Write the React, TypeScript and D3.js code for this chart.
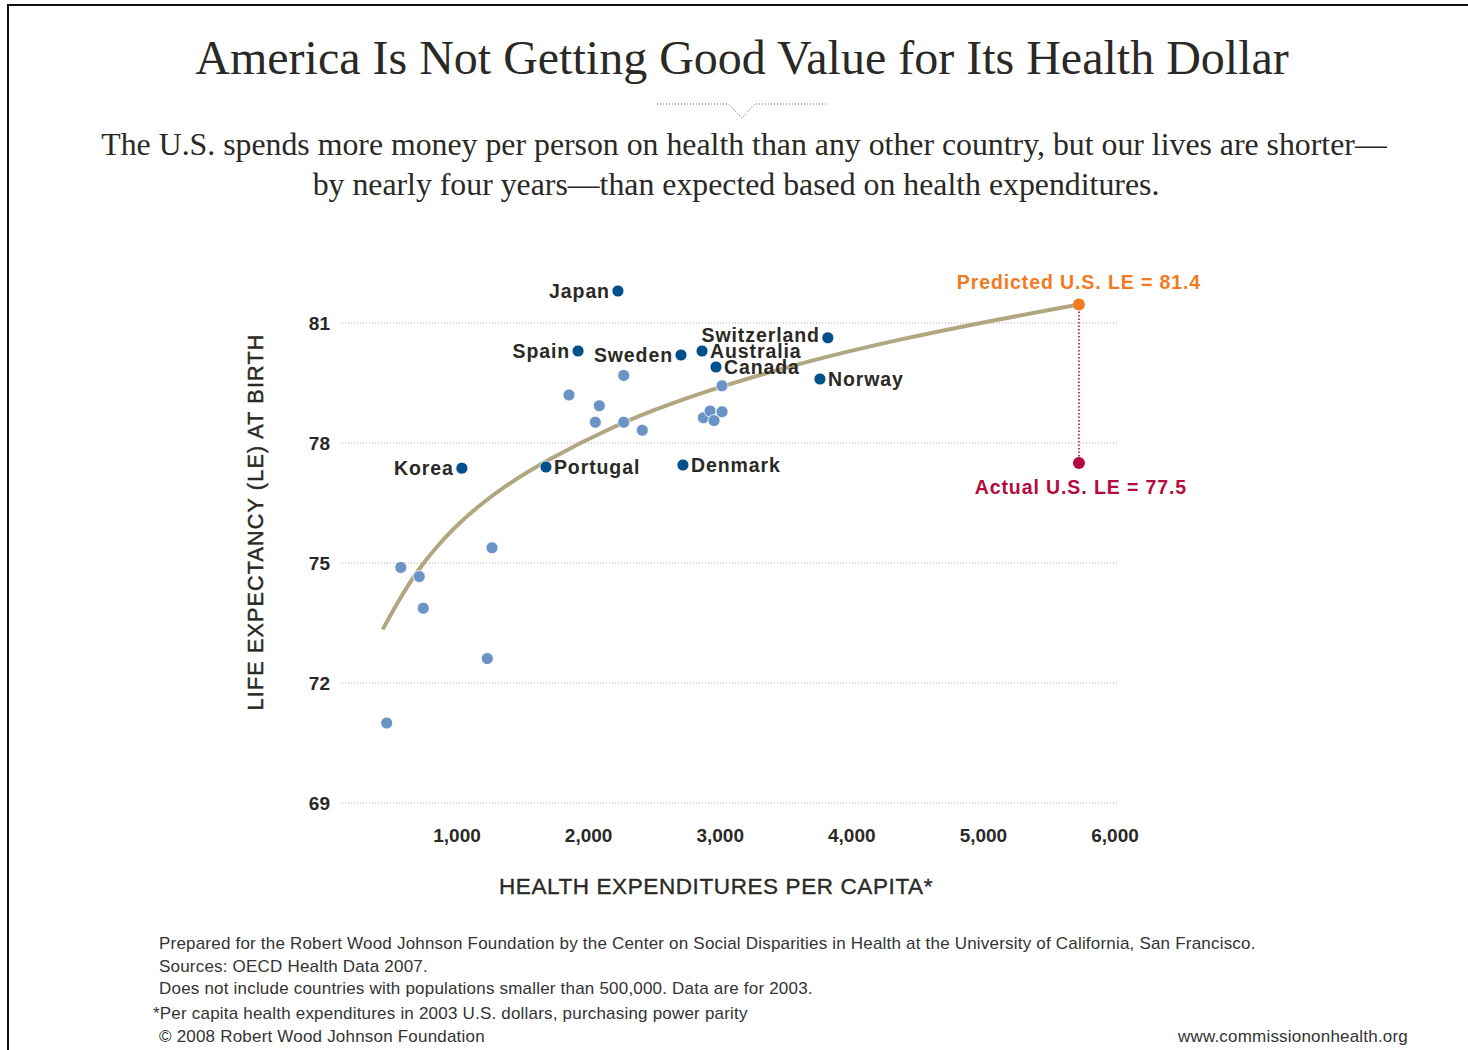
import React from "react";
import * as d3 from "d3";

const W = 1468;
const H = 1050;

// ---- data ----
const xTicks = [1000, 2000, 3000, 4000, 5000, 6000];
const yTicks = [81, 78, 75, 72, 69];

const namedCountries = ["Japan", "Spain", "Sweden", "Australia", "Switzerland", "Canada", "Norway", "Korea", "Portugal", "Denmark"];
const namedSpending = [2223, 1920, 2702, 2862, 3818, 2968, 3758, 1037, 1676, 2717];
const namedLE = [81.8, 80.3, 80.2, 80.3, 80.63, 79.9, 79.6, 77.37, 77.4, 77.45];
const namedLabelSide = ["left", "left", "left", "right", "left", "right", "right", "left", "right", "right"];

const otherSpending = [1851, 2081, 2051, 2267, 2267, 2408, 3014, 2872, 2923, 2953, 3014, 573, 713, 744, 1266, 1230, 466];
const otherLE = [79.2, 78.93, 78.52, 79.69, 78.52, 78.32, 79.43, 78.63, 78.8, 78.56, 78.78, 74.89, 74.66, 73.87, 75.38, 72.61, 71.0];

const trendSpending = [435, 580, 719, 850, 972, 1150, 1352, 1682, 2214, 2593, 3014, 3606, 4366, 5126, 5721];
const trendLE = [73.34, 74.2, 74.9, 75.42, 75.86, 76.39, 76.9, 77.58, 78.46, 78.95, 79.42, 80.0, 80.6, 81.1, 81.46];

const usSpending = 5726;
const usPredictedLE = 81.46;
const usActualLE = 77.5;

const titleText = "America Is Not Getting Good Value for Its Health Dollar";
const subtitleLines = [
  "The U.S. spends more money per person on health than any other country, but our lives are shorter\u2014",
  "by nearly four years\u2014than expected based on health expenditures.",
];
const footerLines = [
  "Prepared for the Robert Wood Johnson Foundation by the Center on Social Disparities in Health at the University of California, San Francisco.",
  "Sources: OECD Health Data 2007.",
  "Does not include countries with populations smaller than 500,000. Data are for 2003.",
  "*Per capita health expenditures in 2003 U.S. dollars, purchasing power parity",
  "\u00A9 2008 Robert Wood Johnson Foundation",
];
const footerUrl = "www.commissiononhealth.org";

// ---- style ----
const INK = "#2a2925";
const DARK_BLUE = "#00508c";
const LIGHT_BLUE = "#6a94c5";
const TREND = "#b0a67f";
const ORANGE = "#f27a21";
const CRIMSON = "#b50a3e";
const GRID = "#a8a8a8";
const SANS = "'Liberation Sans', Arial, Helvetica, sans-serif";
const SERIF = "'Liberation Serif', 'Times New Roman', serif";

export default function App() {
  const x = d3.scaleLinear().domain([1000, 6000]).range([457, 1115]);
  const y = d3.scaleLinear().domain([69, 81]).range([803, 323]);

  const trendLine = d3
    .line<number>()
    .x((_, i) => x(trendSpending[i]))
    .y((d) => y(d))
    .curve(d3.curveBasis);

  const gridX0 = 342;
  const gridX1 = 1118;
  const r = 6;
  const labelFont = { fontFamily: SANS, fontWeight: "bold" as const, fontSize: 19.5, letterSpacing: 0.9 };

  return (
    <svg
      width={W}
      height={H}
      viewBox={`0 0 ${W} ${H}`}
      style={{ position: "absolute", left: 0, top: 0, background: "#fff" }}
    >
      <rect x={0} y={0} width={W} height={H} fill="#fff" />
      {/* frame */}
      <line x1={7} y1={5} x2={W} y2={5} stroke="#111" strokeWidth={2} />
      <line x1={8} y1={4} x2={8} y2={H} stroke="#111" strokeWidth={2} />

      {/* title */}
      <text x={742} y={74} textAnchor="middle" fontFamily={SERIF} fontSize={48} fill={INK}>
        {titleText}
      </text>
      {/* decorative dotted rule with notch */}
      <polyline
        points="657,104 728,104 742,118 755,104 827,104"
        fill="none"
        stroke="#555"
        strokeWidth={1}
        strokeDasharray="1 2"
      />
      {subtitleLines.map((t, i) => (
        <text key={i} x={i === 0 ? 744 : 736} y={155 + i * 40} textAnchor="middle" fontFamily={SERIF} fontSize={31.8} fill={INK}>
          {t}
        </text>
      ))}

      {/* gridlines & y ticks */}
      {yTicks.map((t) => (
        <g key={t}>
          <line x1={gridX0} x2={gridX1} y1={y(t)} y2={y(t)} stroke={GRID} strokeWidth={1} strokeDasharray="1 2" />
          <text x={330} y={y(t) + 7} textAnchor="end" fontFamily={SANS} fontWeight="bold" fontSize={19} fill={INK}>
            {t}
          </text>
        </g>
      ))}
      {/* x ticks */}
      {xTicks.map((t) => (
        <text key={t} x={x(t)} y={842} textAnchor="middle" fontFamily={SANS} fontWeight="bold" fontSize={19} fill={INK}>
          {d3.format(",")(t)}
        </text>
      ))}

      {/* axis titles */}
      <text
        x={716}
        y={894}
        textAnchor="middle"
        fontFamily={SANS}
        fontSize={22.5}
        letterSpacing={0.6}
        fill={INK}
        stroke={INK}
        strokeWidth={0.35}
      >
        HEALTH EXPENDITURES PER CAPITA*
      </text>
      <text
        transform={`translate(263,${522}) rotate(-90)`}
        textAnchor="middle"
        fontFamily={SANS}
        fontSize={21.5}
        letterSpacing={1.2}
        fill={INK}
        stroke={INK}
        strokeWidth={0.45}
      >
        LIFE EXPECTANCY (LE) AT BIRTH
      </text>

      {/* trend */}
      <path d={trendLine(trendLE) || ""} fill="none" stroke={TREND} strokeWidth={4} strokeLinecap="butt" />

      {/* US connector */}
      <line
        x1={x(usSpending)}
        x2={x(usSpending)}
        y1={y(usPredictedLE)}
        y2={y(usActualLE)}
        stroke={CRIMSON}
        strokeWidth={1.6}
        strokeDasharray="1.5 2"
      />

      {/* other countries */}
      {otherLE.map((v, i) => (
        <circle key={i} cx={x(otherSpending[i])} cy={y(v)} r={r} fill={LIGHT_BLUE} stroke="#fff" strokeWidth={0.8} />
      ))}

      {/* named countries */}
      {namedLE.map((v, i) => {
        const cx = x(namedSpending[i]);
        const cy = y(v);
        const left = namedLabelSide[i] === "left";
        const dy = namedCountries[i] === "Switzerland" ? 4 : 7;
        return (
          <g key={namedCountries[i]}>
            <circle cx={cx} cy={cy} r={r} fill={DARK_BLUE} stroke="#fff" strokeWidth={0.8} />
            <text
              x={left ? cx - 8 : cx + 8}
              y={cy + dy}
              textAnchor={left ? "end" : "start"}
              {...labelFont}
              fill={INK}
            >
              {namedCountries[i]}
            </text>
          </g>
        );
      })}

      {/* US points */}
      <circle cx={x(usSpending)} cy={y(usPredictedLE)} r={r} fill={ORANGE} />
      <circle cx={x(usSpending)} cy={y(usActualLE)} r={r} fill={CRIMSON} />
      <text x={x(usSpending)} y={y(usPredictedLE) - 16} textAnchor="middle" {...labelFont} fill={ORANGE}>
        Predicted U.S. LE = 81.4
      </text>
      <text x={x(usSpending) + 2} y={y(usActualLE) + 31} textAnchor="middle" {...labelFont} fill={CRIMSON}>
        Actual U.S. LE = 77.5
      </text>

      {/* footer */}
      {footerLines.map((t, i) => (
        <text
          key={i}
          x={i === 3 ? 153 : 159}
          y={[949, 972, 994, 1019, 1042][i]}
          fontFamily={SANS}
          fontSize={17}
          letterSpacing={0.2}
          fill="#333"
        >
          {t}
        </text>
      ))}
      <text x={1408} y={1042} textAnchor="end" fontFamily={SANS} fontSize={17} letterSpacing={0.2} fill="#333">
        {footerUrl}
      </text>
    </svg>
  );
}
